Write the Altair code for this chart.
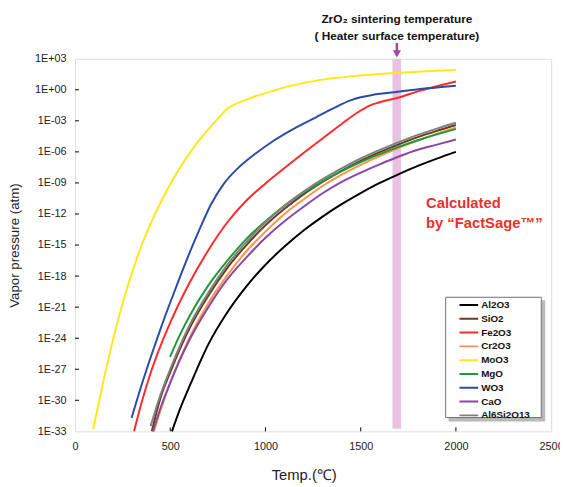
import altair as alt
import pandas as pd

series_names = ["Al2O3", "SiO2", "Fe2O3", "Cr2O3", "MoO3", "MgO", "WO3", "CaO", "Al6Si2O13"]
series_colors = ["#000000", "#6B3A1E", "#FF2A2A", "#F7964A", "#FFE81A", "#1E9A3A", "#2A4BA8", "#8A45A8", "#808080"]

# temperatures (C) and log10 vapor pressure (atm)
al2o3_t = [509, 550, 607, 700, 800, 900, 1000, 1100, 1200, 1300, 1400, 1500, 1600, 1700, 1800, 1900, 2000]
al2o3_p = [-33.0, -30.9, -28.4, -24.6, -21.5, -19.0, -16.9, -15.15, -13.6, -12.25, -11.05, -9.98, -9.0, -8.15, -7.36, -6.65, -6.0]

sio2_t = [403, 450, 500, 600, 700, 800, 900, 1000, 1100, 1200, 1300, 1400, 1500, 1600, 1700, 1800, 1900, 2000]
sio2_p = [-33.0, -29.7, -27.3, -23.1, -19.9, -17.2, -15.0, -13.1, -11.5, -10.1, -8.9, -7.83, -6.87, -6.03, -5.27, -4.58, -3.97, -3.4]

fe2o3_t = [310, 350, 400, 450, 500, 600, 700, 800, 900, 1000, 1100, 1200, 1300, 1400, 1500, 1550, 1600, 1700, 1800, 1900, 2000]
fe2o3_p = [-33.0, -30.2, -27.2, -24.7, -22.5, -18.7, -15.5, -12.8, -10.7, -9.05, -7.55, -6.1, -4.7, -3.3, -2.0, -1.5, -1.2, -0.75, -0.15, 0.35, 0.8]

cr2o3_t = [414, 450, 500, 600, 700, 800, 900, 1000, 1100, 1200, 1300, 1400, 1500, 1600, 1700, 1800, 1900, 2000]
cr2o3_p = [-33.0, -30.9, -28.3, -24.0, -20.6, -17.9, -15.6, -13.7, -12.0, -10.6, -9.3, -8.2, -7.25, -6.4, -5.6, -4.9, -4.25, -3.67]

moo3_t = [95, 150, 200, 250, 300, 350, 400, 450, 500, 550, 600, 650, 700, 750, 806, 850, 900, 952, 1050, 1125, 1200, 1298, 1400, 1500, 1600, 1700, 1800, 1900, 2000]
moo3_p = [-32.8, -28.07, -24.12, -20.62, -17.62, -15.02, -12.82, -10.87, -9.12, -7.57, -6.17, -4.92, -3.82, -2.8, -1.75,
          -1.32, -0.95, -0.6, -0.05, 0.35, 0.65, 0.98, 1.2, 1.38, 1.52, 1.64, 1.75, 1.84, 1.92]

mgo_t = [499, 550, 600, 700, 800, 900, 1000, 1100, 1200, 1300, 1400, 1500, 1600, 1700, 1800, 1900, 2000]
mgo_p = [-25.8, -23.7, -21.9, -18.9, -16.5, -14.4, -12.7, -11.2, -9.95, -8.84, -7.87, -6.99, -6.22, -5.52, -4.88, -4.31, -3.8]

wo3_t = [297, 350, 400, 450, 500, 560, 610, 660, 711, 780, 866, 950, 1039, 1150, 1263, 1350, 1450, 1500, 1556, 1677, 1849, 2000]
wo3_p = [-31.7, -28.5, -25.7, -23.05, -20.55, -17.67, -15.37, -13.22, -11.18, -9.11, -7.39, -6.13, -4.97, -3.75, -2.68,
         -1.85, -1.0, -0.72, -0.52, -0.24, 0.14, 0.4]

cao_t = [409, 450, 500, 600, 700, 800, 900, 1000, 1100, 1200, 1300, 1400, 1500, 1600, 1700, 1800, 1900, 2000]
cao_p = [-33.0, -30.7, -28.3, -24.2, -21.0, -18.3, -16.2, -14.3, -12.7, -11.3, -10.0, -8.9, -8.0, -7.2, -6.45, -5.8, -5.3, -4.8]

al6_t = [397, 450, 500, 600, 700, 800, 900, 1000, 1100, 1200, 1300, 1400, 1500, 1600, 1700, 1800, 1900, 2000]
al6_p = [-32.5, -29.4, -27.0, -22.8, -19.6, -16.9, -14.7, -12.8, -11.2, -9.84, -8.64, -7.59, -6.64, -5.81, -5.05, -4.36, -3.75, -3.19]

series_t = [al2o3_t, sio2_t, fe2o3_t, cr2o3_t, moo3_t, mgo_t, wo3_t, cao_t, al6_t]
series_p = [al2o3_p, sio2_p, fe2o3_p, cr2o3_p, moo3_p, mgo_p, wo3_p, cao_p, al6_p]

x_ticks = [0, 500, 1000, 1500, 2000, 2500]
y_ticks = [1e3, 1e0, 1e-3, 1e-6, 1e-9, 1e-12, 1e-15, 1e-18, 1e-21, 1e-24, 1e-27, 1e-30, 1e-33]

band_start = [1667]
band_end = [1712]
band_top = [1e3]
band_bottom = [10 ** -32.75]
arrow_temp = [1690]
note_temp = [1843]
note_lines = ["Calculated", "by \u201cFactSage\u2122\u201d"]
note_logp = [-10.95, -12.85]
head_lines = ["ZrO\u2082 sintering temperature", "( Heater surface temperature)"]

rows = []
for name, ts, ps in zip(series_names, series_t, series_p):
    for t, p in zip(ts, ps):
        rows.append({"series": name, "T": t, "P": 10 ** p, "order": series_names.index(name)})
df = pd.DataFrame(rows)

FONT = "Liberation Sans"
xscale = alt.Scale(domain=[0, 2500], nice=False, zero=False)
yscale = alt.Scale(type="log", domain=[1e-33, 1e3], nice=False)

label_expr = ("'1E' + (round(log(datum.value)/LN10) >= 0 ? '+' : '-') + "
              "(abs(round(log(datum.value)/LN10)) < 10 ? '0' : '') + abs(round(log(datum.value)/LN10))")

band = alt.Chart(pd.DataFrame({"x": band_start, "x2": band_end, "y": band_top, "y2": band_bottom})).mark_rect(
    color="#E9C2E3"
).encode(
    x=alt.X("x:Q", scale=xscale,
            axis=alt.Axis(values=x_ticks, format="d", title="Temp.(\u2103)", grid=False, domain=False, ticks=False,
                          labelFlush=False, labelOverlap=False,
                          labelFont=FONT, labelFontSize=11, labelColor="#222", labelPadding=9,
                          titleFont=FONT, titleFontSize=15, titleFontWeight="normal", titleColor="#222",
                          titleX=232, titleY=44, titleBaseline="middle", titleAlign="center")),
    x2="x2:Q",
    y=alt.Y("y:Q", scale=yscale,
            axis=alt.Axis(values=y_ticks, labelExpr=label_expr, title="Vapor pressure (atm)", grid=False,
                          labelFlush=False, labelOverlap=False,
                          domain=False, ticks=False, labelFont=FONT, labelFontSize=11, labelColor="#222",
                          labelPadding=9, titleFont=FONT, titleFontSize=13.5, titleFontWeight="normal",
                          titleColor="#222", titlePadding=13)),
    y2="y2:Q",
)

shadow = alt.Chart(pd.DataFrame({"a": [0]})).mark_rect(color="#8a8a8a", opacity=0.6).encode(
    x=alt.value(379), x2=alt.value(477), y=alt.value(245), y2=alt.value(368)
)
legend_box = alt.Chart(pd.DataFrame({"a": [0]})).mark_rect(color="#ffffff", stroke="#707070", strokeWidth=1).encode(
    x=alt.value(376), x2=alt.value(473), y=alt.value(242), y2=alt.value(364)
)

lines = alt.Chart(df).mark_line(strokeWidth=2, interpolate="monotone").encode(
    x=alt.X("T:Q", scale=xscale),
    y=alt.Y("P:Q", scale=yscale),
    color=alt.Color("series:N", scale=alt.Scale(domain=series_names, range=series_colors),
                    sort=series_names,
                    legend=alt.Legend(title=None, orient="none", legendX=376, legendY=239,
                                      symbolType="stroke", symbolSize=361, symbolStrokeWidth=2,
                                      labelFont=FONT, labelFontSize=10, labelFontWeight="bold",
                                      labelColor="#111", clipHeight=13.6, rowPadding=0,
                                      padding=4, symbolOffset=9, labelOffset=2)),
    order=alt.Order("order:Q"),
    detail="series:N",
)

yt = alt.Chart(pd.DataFrame({"v": y_ticks[1:-1]})).mark_rule(color="#000", strokeWidth=1).encode(
    y=alt.Y("v:Q", scale=yscale), x=alt.value(0), x2=alt.value(4)
)
xt = alt.Chart(pd.DataFrame({"v": x_ticks[1:-1]})).mark_rule(color="#000", strokeWidth=1).encode(
    x=alt.X("v:Q", scale=xscale), y=alt.value(378), y2=alt.value(374)
)

note = alt.Chart(pd.DataFrame({"t": note_temp * 2, "p": [10 ** v for v in note_logp], "s": note_lines})).mark_text(
    align="left", baseline="middle", font=FONT, fontSize=15, fontWeight="bold", color="#E8302E"
).encode(x=alt.X("t:Q", scale=xscale), y=alt.Y("p:Q", scale=yscale), text="s:N")

arrow_line = alt.Chart(pd.DataFrame({"t": arrow_temp})).mark_rule(color="#9B4A9E", strokeWidth=2.5).encode(
    x=alt.X("t:Q", scale=xscale), y=alt.value(-16), y2=alt.value(-6)
)
arrow_head = alt.Chart(pd.DataFrame({"t": arrow_temp})).mark_point(
    shape="triangle-down", filled=True, color="#9B4A9E", size=70, opacity=1
).encode(x=alt.X("t:Q", scale=xscale), y=alt.value(-5))

head_title = alt.Chart(pd.DataFrame({"t": arrow_temp * 2, "yy": [-40, -23], "s": head_lines})).mark_text(
    align="center", baseline="middle", font=FONT, fontSize=12, fontWeight="bold", color="#111"
).encode(x=alt.X("t:Q", scale=xscale), y=alt.Y("yy:Q", scale=None), text="s:N")

chart = alt.layer(band, shadow, legend_box, lines, yt, xt, note, arrow_line, arrow_head, head_title).properties(
    width=483, height=378,
    autosize=alt.AutoSizeParams(type="none"),
    padding={"left": 68, "top": 48, "right": 9, "bottom": 53},
).configure_view(stroke="#000", strokeWidth=1.6).configure(background="#ffffff")

chart.save("out.html", embed_options={"renderer": "svg", "actions": False})
